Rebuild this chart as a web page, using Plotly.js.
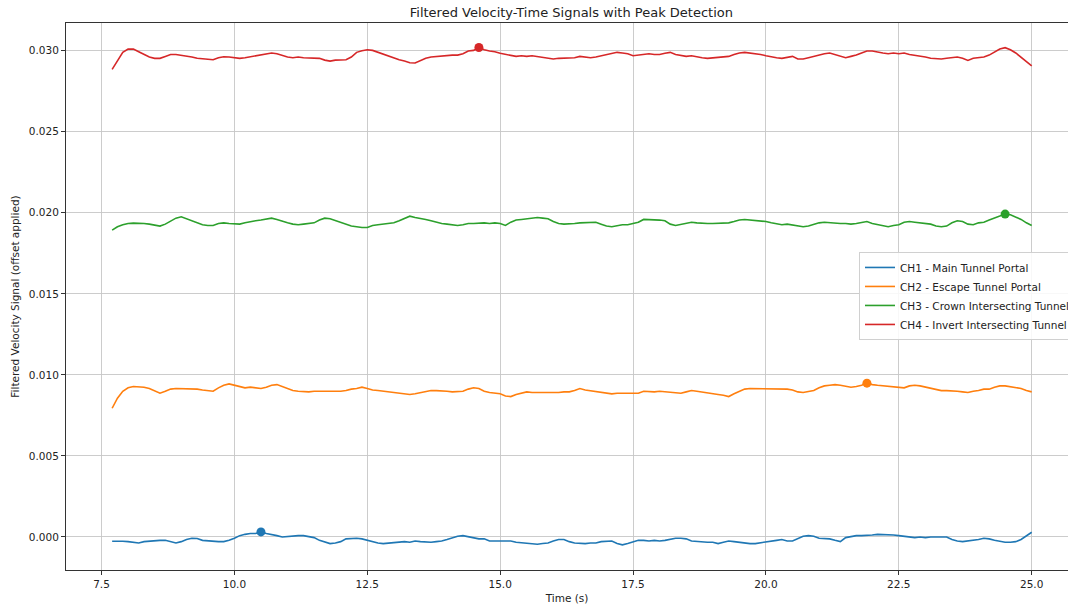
<!DOCTYPE html>
<html>
<head>
<meta charset="utf-8">
<script src="https://cdn.plot.ly/plotly-3.0.1.min.js"></script>
<style>html,body{margin:0;padding:0;background:#fff;}#chart{width:1068px;height:607px;}</style>
</head>
<body>
<div id="chart"></div>
<script>
// Time samples (s)
const time = [7.7,7.8,7.9,8.0,8.1,8.2,8.3,8.4,8.5,8.6,
8.7,8.8,8.9,9.0,9.1,9.2,9.3,9.4,9.5,9.6,
9.7,9.8,9.9,10.0,10.1,10.2,10.3,10.4,10.5,10.6,
10.7,10.8,10.9,11.0,11.1,11.2,11.3,11.4,11.5,11.6,
11.7,11.8,11.9,12.0,12.1,12.2,12.3,12.4,12.5,12.6,
12.7,12.8,12.9,13.0,13.1,13.2,13.3,13.4,13.5,13.6,
13.7,13.8,13.9,14.0,14.1,14.2,14.3,14.4,14.5,14.6,
14.7,14.8,14.9,15.0,15.1,15.2,15.3,15.4,15.5,15.6,
15.7,15.8,15.9,16.0,16.1,16.2,16.3,16.4,16.5,16.6,
16.7,16.8,16.9,17.0,17.1,17.2,17.3,17.4,17.5,17.6,
17.7,17.8,17.9,18.0,18.1,18.2,18.3,18.4,18.5,18.6,
18.7,18.8,18.9,19.0,19.1,19.2,19.3,19.4,19.5,19.6,
19.7,19.8,19.9,20.0,20.1,20.2,20.3,20.4,20.5,20.6,
20.7,20.8,20.9,21.0,21.1,21.2,21.3,21.4,21.5,21.6,
21.7,21.8,21.9,22.0,22.1,22.2,22.3,22.4,22.5,22.6,
22.7,22.8,22.9,23.0,23.1,23.2,23.3,23.4,23.5,23.6,
23.7,23.8,23.9,24.0,24.1,24.2,24.3,24.4,24.5,24.6,
24.7,24.8,24.9,25.0];

const ch1 = [-0.00027,-0.00025,-0.00027,-0.00029,-0.00033,-0.00037,-0.00029,-0.00025,-0.00025,-0.00021,
-0.00021,-0.00029,-0.00037,-0.00029,-0.00016,-0.00008,-0.00010,-0.00021,-0.00025,-0.00025,
-0.00029,-0.00029,-0.00021,-0.00008,0.00008,0.00016,0.00021,0.00021,0.00031,0.00021,
0.00016,0.00008,0.00000,0.00004,0.00008,0.00008,0.00008,0.00000,-0.00004,-0.00021,
-0.00033,-0.00041,-0.00037,-0.00029,-0.00012,-0.00008,-0.00008,-0.00012,-0.00021,-0.00029,
-0.00037,-0.00041,-0.00037,-0.00033,-0.00029,-0.00029,-0.00033,-0.00025,-0.00029,-0.00033,
-0.00033,-0.00029,-0.00025,-0.00016,-0.00004,0.00004,0.00008,0.00000,-0.00008,-0.00012,
-0.00012,-0.00025,-0.00025,-0.00025,-0.00021,-0.00025,-0.00033,-0.00037,-0.00041,-0.00045,
-0.00045,-0.00041,-0.00037,-0.00025,-0.00016,-0.00016,-0.00029,-0.00037,-0.00041,-0.00041,
-0.00037,-0.00037,-0.00029,-0.00025,-0.00025,-0.00041,-0.00049,-0.00041,-0.00029,-0.00021,
-0.00021,-0.00025,-0.00021,-0.00025,-0.00021,-0.00016,-0.00008,-0.00008,-0.00012,-0.00025,
-0.00029,-0.00033,-0.00033,-0.00033,-0.00041,-0.00033,-0.00025,-0.00029,-0.00033,-0.00041,
-0.00041,-0.00041,-0.00037,-0.00033,-0.00025,-0.00021,-0.00016,-0.00025,-0.00025,-0.00008,
0.00004,0.00008,0.00004,-0.00008,-0.00012,-0.00012,-0.00021,-0.00029,-0.00004,0.00004,
0.00008,0.00008,0.00008,0.00012,0.00016,0.00016,0.00012,0.00012,0.00008,0.00004,
0.00000,-0.00004,0.00000,-0.00004,0.00000,0.00000,0.00004,0.00000,-0.00016,-0.00025,
-0.00029,-0.00025,-0.00021,-0.00016,-0.00008,-0.00012,-0.00021,-0.00029,-0.00033,-0.00033,
-0.00029,-0.00016,0.00008,0.00029];

const ch2 = [0.00794,0.00856,0.00899,0.00920,0.00928,0.00928,0.00924,0.00916,0.00903,0.00887,
0.00899,0.00912,0.00916,0.00916,0.00912,0.00916,0.00912,0.00907,0.00903,0.00899,
0.00920,0.00936,0.00944,0.00936,0.00924,0.00920,0.00924,0.00920,0.00916,0.00924,
0.00936,0.00940,0.00928,0.00912,0.00903,0.00899,0.00895,0.00895,0.00899,0.00899,
0.00895,0.00899,0.00895,0.00899,0.00903,0.00912,0.00916,0.00924,0.00916,0.00907,
0.00903,0.00899,0.00895,0.00891,0.00887,0.00883,0.00879,0.00883,0.00891,0.00899,
0.00903,0.00903,0.00903,0.00899,0.00895,0.00895,0.00899,0.00912,0.00920,0.00916,
0.00899,0.00891,0.00887,0.00883,0.00870,0.00866,0.00879,0.00887,0.00895,0.00891,
0.00891,0.00891,0.00891,0.00887,0.00891,0.00895,0.00895,0.00903,0.00916,0.00907,
0.00903,0.00899,0.00895,0.00887,0.00883,0.00887,0.00887,0.00887,0.00883,0.00887,
0.00899,0.00895,0.00895,0.00899,0.00895,0.00891,0.00887,0.00887,0.00895,0.00903,
0.00899,0.00895,0.00887,0.00883,0.00879,0.00874,0.00866,0.00883,0.00899,0.00912,
0.00916,0.00916,0.00916,0.00916,0.00916,0.00912,0.00912,0.00912,0.00907,0.00895,
0.00891,0.00895,0.00903,0.00920,0.00932,0.00936,0.00940,0.00936,0.00928,0.00924,
0.00928,0.00936,0.00949,0.00940,0.00936,0.00932,0.00928,0.00924,0.00920,0.00920,
0.00932,0.00936,0.00932,0.00924,0.00916,0.00912,0.00903,0.00903,0.00903,0.00899,
0.00895,0.00891,0.00899,0.00903,0.00912,0.00912,0.00924,0.00932,0.00932,0.00928,
0.00924,0.00916,0.00903,0.00895];

const ch3 = [0.01893,0.01914,0.01926,0.01934,0.01936,0.01936,0.01934,0.01930,0.01922,0.01918,
0.01930,0.01951,0.01967,0.01975,0.01963,0.01946,0.01934,0.01926,0.01922,0.01922,
0.01934,0.01938,0.01934,0.01930,0.01930,0.01938,0.01946,0.01951,0.01955,0.01963,
0.01967,0.01959,0.01946,0.01938,0.01930,0.01926,0.01930,0.01934,0.01938,0.01955,
0.01967,0.01963,0.01951,0.01938,0.01926,0.01918,0.01914,0.01909,0.01909,0.01922,
0.01926,0.01930,0.01930,0.01938,0.01951,0.01967,0.01979,0.01971,0.01967,0.01959,
0.01951,0.01942,0.01934,0.01930,0.01926,0.01922,0.01926,0.01934,0.01934,0.01938,
0.01938,0.01934,0.01938,0.01934,0.01922,0.01942,0.01955,0.01959,0.01963,0.01967,
0.01971,0.01967,0.01963,0.01946,0.01934,0.01930,0.01930,0.01934,0.01938,0.01938,
0.01942,0.01942,0.01930,0.01918,0.01914,0.01922,0.01926,0.01926,0.01934,0.01942,
0.01959,0.01959,0.01955,0.01955,0.01951,0.01930,0.01922,0.01930,0.01938,0.01942,
0.01938,0.01934,0.01934,0.01934,0.01934,0.01934,0.01938,0.01946,0.01955,0.01959,
0.01955,0.01955,0.01951,0.01946,0.01938,0.01930,0.01926,0.01930,0.01926,0.01922,
0.01914,0.01918,0.01930,0.01938,0.01942,0.01938,0.01934,0.01934,0.01934,0.01930,
0.01934,0.01942,0.01946,0.01934,0.01926,0.01918,0.01914,0.01922,0.01926,0.01942,
0.01946,0.01942,0.01938,0.01934,0.01930,0.01918,0.01914,0.01918,0.01938,0.01951,
0.01946,0.01930,0.01926,0.01938,0.01942,0.01955,0.01967,0.01979,0.01992,0.01988,
0.01975,0.01959,0.01938,0.01922];

const ch4 = [0.02885,0.02942,0.02990,0.03010,0.03010,0.02994,0.02977,0.02961,0.02953,0.02953,
0.02965,0.02977,0.02977,0.02973,0.02965,0.02961,0.02953,0.02949,0.02946,0.02944,
0.02957,0.02963,0.02961,0.02957,0.02953,0.02957,0.02963,0.02967,0.02973,0.02977,
0.02986,0.02981,0.02969,0.02961,0.02957,0.02961,0.02957,0.02955,0.02957,0.02953,
0.02942,0.02936,0.02942,0.02944,0.02944,0.02961,0.02990,0.03000,0.03006,0.03002,
0.02990,0.02977,0.02965,0.02953,0.02944,0.02936,0.02926,0.02924,0.02940,0.02953,
0.02961,0.02965,0.02969,0.02969,0.02973,0.02973,0.02981,0.02998,0.03002,0.03020,
0.03006,0.02998,0.02994,0.02984,0.02977,0.02969,0.02965,0.02969,0.02965,0.02969,
0.02965,0.02957,0.02953,0.02949,0.02953,0.02953,0.02953,0.02957,0.02965,0.02961,
0.02957,0.02961,0.02969,0.02977,0.02986,0.02990,0.02986,0.02981,0.02969,0.02973,
0.02977,0.02981,0.02977,0.02977,0.02984,0.02990,0.02977,0.02969,0.02965,0.02969,
0.02961,0.02957,0.02953,0.02957,0.02961,0.02961,0.02965,0.02977,0.02986,0.02990,
0.02986,0.02981,0.02977,0.02969,0.02961,0.02957,0.02953,0.02961,0.02965,0.02949,
0.02949,0.02957,0.02965,0.02977,0.02981,0.02986,0.02977,0.02969,0.02957,0.02965,
0.02973,0.02986,0.02998,0.02998,0.02990,0.02986,0.02981,0.02986,0.02981,0.02986,
0.02977,0.02973,0.02969,0.02961,0.02953,0.02949,0.02949,0.02953,0.02957,0.02961,
0.02953,0.02940,0.02953,0.02957,0.02961,0.02973,0.02990,0.03010,0.03019,0.03006,
0.02986,0.02961,0.02932,0.02907];

const seriesNames = ["CH1 - Main Tunnel Portal","CH2 - Escape Tunnel Portal","CH3 - Crown Intersecting Tunnel","CH4 - Invert Intersecting Tunnel"];
const seriesColors = ["#1f77b4","#ff7f0e","#2ca02c","#d62728"];
// detected peak times (s) per channel
const peakTimes = [10.5, 21.9, 24.5, 14.6];

const xTicks = [7.5,10.0,12.5,15.0,17.5,20.0,22.5,25.0];
const yTicks = [0.000,0.005,0.010,0.015,0.020,0.025,0.030];

const allSeries = [ch1, ch2, ch3, ch4];
const FONT = "DejaVu Sans, Liberation Sans, sans-serif";

const traces = [];
allSeries.forEach((s, i) => {
  traces.push({
    x: time, y: s, type: "scatter", mode: "lines", name: seriesNames[i],
    line: {color: seriesColors[i], width: 1.6}
  });
});
allSeries.forEach((s, i) => {
  const idx = time.findIndex(t => Math.abs(t - peakTimes[i]) < 1e-9);
  traces.push({
    x: [time[idx]], y: [s[idx]], type: "scatter", mode: "markers", showlegend: false,
    marker: {color: seriesColors[i], size: 9}
  });
});

const layout = {
  width: 1068, height: 607,
  margin: {l: 66, r: 0, t: 23, b: 37, pad: 0, autoexpand: false},
  paper_bgcolor: "#ffffff", plot_bgcolor: "#ffffff",
  font: {family: FONT, size: 10.5, color: "#222"},
  title: {text: "Filtered Velocity-Time Signals with Peak Detection",
          font: {family: FONT, size: 13, color: "#222"},
          xref: "container", x: 0.535, xanchor: "center",
          yref: "container", y: 1 - 12/607, yanchor: "middle"},
  showlegend: true,
  legend: {x: 0.7914, xanchor: "left", y: 0.501, yanchor: "middle",
           bgcolor: "rgba(255,255,255,0.85)", bordercolor: "#d0d0d0", borderwidth: 1,
           font: {family: FONT, size: 10.5, color: "#222"}},
  xaxis: {
    range: [6.832, 25.683], tickvals: xTicks, tickformat: ".1f",
    showgrid: true, gridcolor: "#c6c6c6", gridwidth: 0.9, zeroline: false,
    showline: true, mirror: true, linecolor: "#333", linewidth: 1,
    ticks: "outside", ticklen: 4, tickcolor: "#333", tickwidth: 1,
    tickfont: {family: FONT, size: 10.5, color: "#222"},
    title: {text: "Time (s)", font: {family: FONT, size: 10.5, color: "#222"}, standoff: 6}
  },
  yaxis: {
    range: [-0.00204, 0.03171], tickvals: yTicks, tickformat: ".3f",
    showgrid: true, gridcolor: "#c6c6c6", gridwidth: 0.9, zeroline: false,
    showline: true, mirror: false, linecolor: "#333", linewidth: 1,
    ticks: "outside", ticklen: 4, tickcolor: "#333", tickwidth: 1,
    tickfont: {family: FONT, size: 10.5, color: "#222"},
    title: {text: "Filtered Velocity Signal (offset applied)", font: {family: FONT, size: 10.5, color: "#222"}, standoff: 7}
  }
};

Plotly.newPlot("chart", traces, layout, {displayModeBar: false, staticPlot: true});
</script>
</body>
</html>
